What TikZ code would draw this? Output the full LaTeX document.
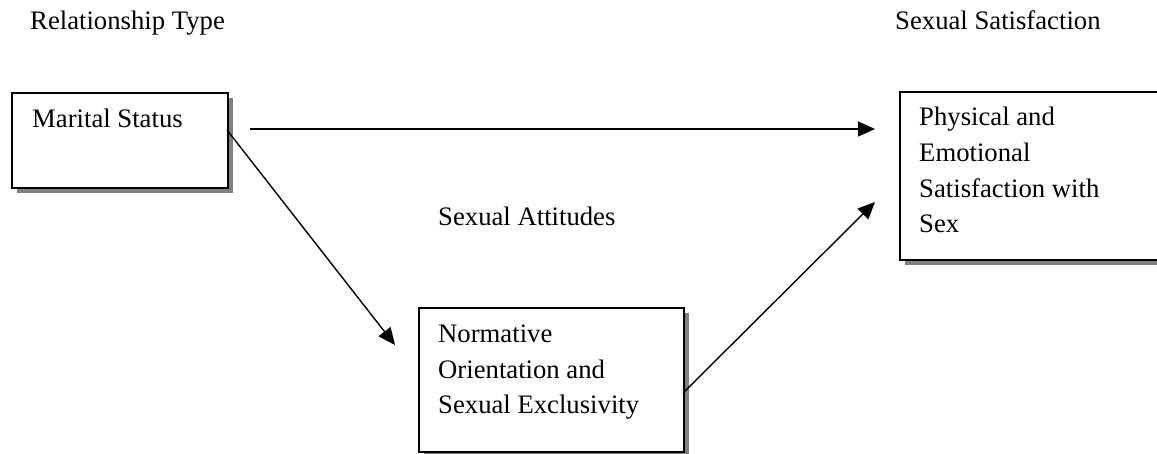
\documentclass[tikz,border=0pt]{standalone}
\usepackage{fontspec}
\setmainfont{Liberation Serif}
\usetikzlibrary{arrows.meta,shadows}
\begin{document}
\begin{tikzpicture}[x=1pt,y=-1pt,
  lbl/.style={font=\fontsize{26.7}{35.7}\selectfont, inner sep=0pt, anchor=base west, align=left},
  boxn/.style={draw, line width=2pt, fill=white, inner sep=0pt, anchor=north west,
    general shadow={fill=black!50, shadow xshift=5pt, shadow yshift=-5pt}},
  arr/.style={line width=1.4pt, -{Triangle[length=17pt,width=15pt]}}]
\useasboundingbox (0,0) rectangle (1157,453);
\clip (0,0) rectangle (1157,453);
\node[boxn, minimum width=216pt, minimum height=95pt] (ms) at (11,92) {};
\node[boxn, minimum width=265pt, minimum height=144pt] (no) at (418,307) {};
\node[boxn, minimum width=266pt, minimum height=168pt] (ps) at (899,91) {};
\node[lbl] (t1) at (30,29) {Relationship Type};
\node[lbl] (t2) at (895,29) {Sexual Satisfaction};
\node[lbl] (t3) at (438,225) {Sexual Attitudes};
\node[lbl] (msT) at (32,127) {Marital Status};
\node[lbl] (noT1) at (438,342) {Normative};
\node[lbl] (noT2) at (438,378) {Orientation and};
\node[lbl] (noT3) at (438,413) {Sexual Exclusivity};
\node[lbl] (psT1) at (919,125) {Physical and};
\node[lbl] (psT2) at (919,161) {Emotional};
\node[lbl] (psT3) at (919,197) {Satisfaction with};
\node[lbl] (psT4) at (919,232) {Sex};
\coordinate (h1) at (250,129);
\coordinate (h2) at (875,129);
\coordinate (d1a) at (227,130);
\coordinate (d1b) at (395,345);
\coordinate (d2a) at (683,393);
\coordinate (d2b) at (875,202);
\draw[arr] (h1) -- (h2);
\draw[arr] (d1a) -- (d1b);
\draw[arr] (d2a) -- (d2b);
\end{tikzpicture}
\end{document}
